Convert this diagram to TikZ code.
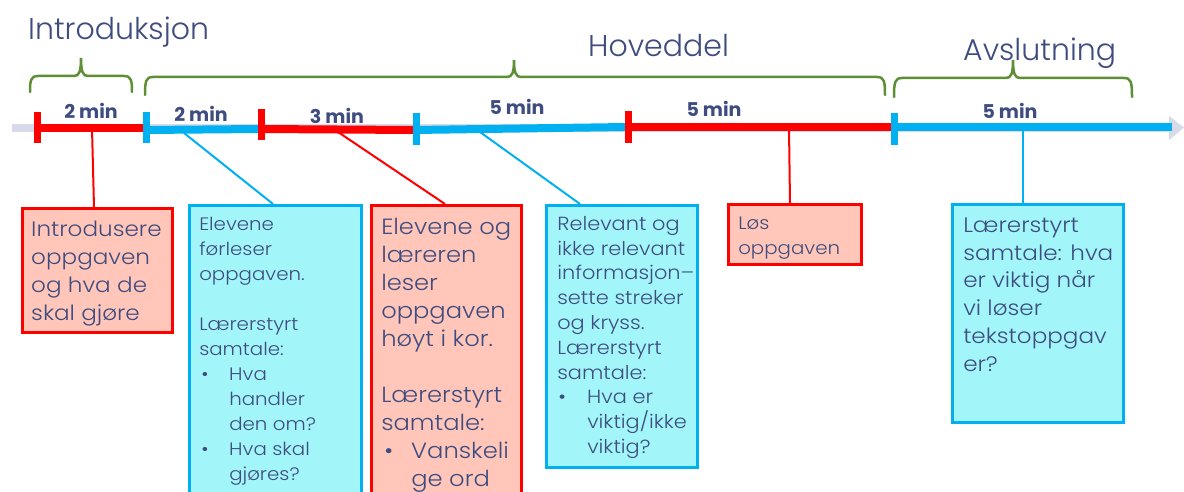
\documentclass[tikz,border=0pt]{standalone}
\usepackage{fontspec}
\setmainfont{Poppins}
\newfontfamily\lightfont{Poppins}[UprightFont=* Light]
\newfontfamily\boxfont{Poppins}[UprightFont=* Light,FakeStretch=1.1]
\usetikzlibrary{calc}
\definecolor{navy}{HTML}{3E4C7F}
\definecolor{myred}{HTML}{FF0000}
\definecolor{myblue}{HTML}{00B0F0}
\definecolor{redfill}{HTML}{FFC6B9}
\definecolor{bluefill}{HTML}{A2F6FA}
\definecolor{bracegreen}{HTML}{5E8F35}
\definecolor{axisgray}{HTML}{D7DAE8}
\newcommand\bxt[5]{\parbox[c][#2][t]{#1}{\hyphenpenalty=10000\exhyphenpenalty=10000\leftskip=#3\rightskip=0pt plus 1fil\parindent=0pt\parfillskip=0pt plus 1fil\rule{0pt}{#4}\ignorespaces#5}}
\newcommand\bul[2]{\hspace*{#1}\makebox[#2][l]{•}}
\newcommand\brc[6]{\draw[bracestyle] (#1,#5) .. controls (#1,#4+4) and (#1+1,#4) .. (#1+8,#4) -- (#3-7,#4) .. controls (#3-2,#4) and (#3,#4-4) .. (#3,#6) .. controls (#3,#4-4) and (#3+2,#4) .. (#3+7,#4) -- (#2-8,#4) .. controls (#2-1,#4) and (#2,#4+4) .. (#2,#5);}
\begin{document}
\begin{tikzpicture}[x=1pt,y=-1pt,
  bracestyle/.style={draw=bracegreen,line width=2.5pt,line cap=round},
  title/.style={text=navy,font=\lightfont\fontsize{30}{36}\selectfont,anchor=base west,inner sep=0pt},
  mins/.style={text=navy,font=\bfseries\fontsize{19}{22}\selectfont,anchor=base,inner sep=0pt},
  redbox/.style={draw=myred,fill=redfill,line width=2.5pt,inner sep=0pt,anchor=north west,text=navy,font=\boxfont},
  bluebox/.style={draw=myblue,fill=bluefill,line width=2.5pt,inner sep=0pt,anchor=north west,text=navy,font=\boxfont},
  redseg/.style={draw=myred,line width=8pt},
  blueseg/.style={draw=myblue,line width=8pt},
  redtick/.style={draw=myred,line width=7pt},
  bluetick/.style={draw=myblue,line width=7pt},
  redcon/.style={draw=myred,line width=2pt},
  bluecon/.style={draw=myblue,line width=2pt}]
\useasboundingbox (0,0) rectangle (1184,492);
\fill[white] (0,0) rectangle (1184,492);

% titles
\node[title] (tintro) at (28,40) {Introduksjon};
\node[title] (thoved) at (588,57) {Hoveddel};
\node[title] (tavsl) at (963,61) {Avslutning};

% braces
\brc{30}{132}{81}{76}{92}{58}
\brc{145}{885}{514}{77}{95}{60}
\brc{894}{1132}{1013}{78}{97}{60}

% axis
\draw[draw=axisgray,line width=8pt] (12,128) -- (1172,128);
\fill[axisgray] (1169,116) -- (1184,127.5) -- (1169,140) -- cycle;

% segments
\draw[redseg] (37,128) -- (145,128);
\draw[blueseg] (146,130) -- (260,129);
\draw[redseg] (260,129) -- (414,130);
\draw[blueseg] (414,130) -- (626,127);
\draw[redseg] (626,127) -- (893,127);
\draw[blueseg] (893,127) -- (1172,127);

% ticks
\draw[redtick] (37,112) -- (37,143);
\draw[bluetick] (146,112) -- (146,143);
\draw[redtick] (261,109) -- (261,140);
\draw[bluetick] (416,113) -- (416,145);
\draw[redtick] (628,111) -- (628,143);
\draw[bluetick] (894,113) -- (894,145);

% minute labels
\node[mins] (m1) at (91,119) {2 min};
\node[mins] (m2) at (201,122) {2 min};
\node[mins] (m3) at (337,124) {3 min};
\node[mins] (m4) at (517,115) {5 min};
\node[mins] (m5) at (714,117) {5 min};
\node[mins] (m6) at (1010,119) {5 min};

% anchor points on the timeline
\coordinate (c1) at (92,128);
\coordinate (c2) at (184,133);
\coordinate (c3) at (338,132);
\coordinate (c4) at (480,132);
\coordinate (c5) at (789,128);
\coordinate (c6) at (1023,128);

% boxes
\node[redbox] (b1) at (21,207) {\fontsize{21}{28}\selectfont\bxt{150pt}{124pt}{9pt}{28pt}{Introdusere\\oppgaven\\og hva de\\skal gjøre}};
\node[bluebox] (b2) at (188,204) {\fontsize{18}{25}\selectfont\bxt{172pt}{300pt}{10pt}{25pt}{Elevene\\førleser\\oppgaven.\\\mbox{}\\Lærerstyrt\\samtale:\\\bul{2pt}{28pt}Hva\\\hspace*{30pt}handler\\\hspace*{30pt}den om?\\\bul{2pt}{28pt}Hva skal\\\hspace*{30pt}gjøres?}};
\node[redbox] (b3) at (370,204) {\fontsize{22}{28}\selectfont\bxt{150pt}{300pt}{10pt}{29pt}{Elevene og\\læreren\\leser\\oppgaven\\høyt i kor.\\\mbox{}\\Lærerstyrt\\samtale:\\\bul{3pt}{27pt}Vanskeli\\\hspace*{30pt}ge ord}};
\node[bluebox] (b4) at (545,204) {\fontsize{19}{24.8}\selectfont\bxt{151pt}{262pt}{11pt}{25pt}{Relevant og\\ikke relevant\\informasjon–\\sette streker\\og kryss.\\Lærerstyrt\\samtale:\\\bul{1pt}{29pt}Hva er\\\hspace*{30pt}viktig/ikke\\\hspace*{30pt}viktig?}};
\node[redbox] (b5) at (727,203) {\fontsize{18}{25}\selectfont\bxt{133pt}{60pt}{10pt}{25pt}{Løs\\oppgaven}};
\node[bluebox] (b6) at (951,203) {\fontsize{21}{27.8}\selectfont\bxt{171pt}{218pt}{11pt}{28pt}{Lærerstyrt\\samtale: hva\\er viktig når\\vi løser\\tekstoppgav\\er?}};

% connectors
\draw[redcon] (c1) -- ($(b1.north west)+(73,0)$);
\draw[bluecon] (c2) -- ($(b2.north west)+(85,0)$);
\draw[redcon] (c3) -- ($(b3.north west)+(75,0)$);
\draw[bluecon] (c4) -- ($(b4.north west)+(35,0)$);
\draw[redcon] (c5) -- ($(b5.north west)+(63,0)$);
\draw[bluecon] (c6) -- ($(b6.north west)+(72,0)$);
\end{tikzpicture}
\end{document}
